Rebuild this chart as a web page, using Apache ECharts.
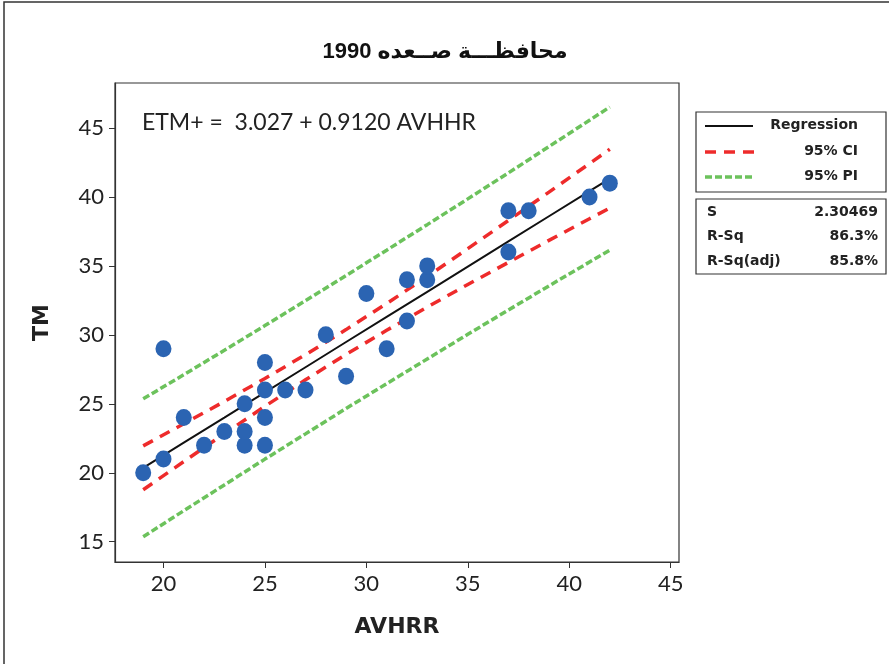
<!DOCTYPE html>
<html>
<head>
<meta charset="utf-8">
<script src="https://cdn.jsdelivr.net/npm/echarts@6/dist/echarts.min.js"></script>
<style>
  html, body { margin: 0; padding: 0; background: #fff; }
  #chart { width: 889px; height: 664px; }
</style>
</head>
<body>
<div id="chart"></div>
<script>
// observed points (AVHRR, TM)
var obsX = [19, 20, 20, 21, 22, 23, 24, 24, 24, 25, 25, 25, 25, 26, 27, 28, 29, 30, 31, 32, 32, 33, 33, 37, 37, 38, 41, 42];
var obsY = [20, 21, 29, 24, 22, 23, 22, 23, 25, 22, 24, 26, 28, 26, 26, 30, 27, 33, 29, 31, 34, 34, 35, 36, 39, 39, 40, 41];

// fitted line and bands read along x
var fitX    = [19, 21, 23, 25, 27, 29, 31, 33, 35, 37, 39, 41, 42];
var fitY    = [20.36, 22.18, 24.00, 25.83, 27.65, 29.48, 31.30, 33.12, 34.95, 36.77, 38.60, 40.42, 41.33];
var ciUpper = [21.95, 23.55, 25.17, 26.84, 28.56, 30.38, 32.27, 34.23, 36.25, 38.29, 40.35, 42.42, 43.46];
var ciLower = [18.77, 20.81, 22.83, 24.82, 26.74, 28.58, 30.33, 32.01, 33.65, 35.25, 36.85, 38.42, 39.20];
var piUpper = [25.36, 27.11, 28.88, 30.67, 32.48, 34.30, 36.14, 37.99, 39.86, 41.74, 43.65, 45.56, 46.52];
var piLower = [15.36, 17.25, 19.12, 20.99, 22.82, 24.66, 26.46, 28.25, 30.04, 31.80, 33.55, 35.28, 36.14];

var xTicks = [20, 25, 30, 35, 40, 45];
var yTicks = [15, 20, 25, 30, 35, 40, 45];

var statNames = ['S', 'R-Sq', 'R-Sq(adj)'];
var statValues = ['2.30469', '86.3%', '85.8%'];

function pairs(xs, ys) {
  return xs.map(function (x, i) { return [x, ys[i]]; });
}

var chart = echarts.init(document.getElementById('chart'));

var red = '#ee2b2b';
var green = '#6cc25c';
var lblFont = 'Lato, "Open Sans", sans-serif';
var boldFont = 'Tahoma, "DejaVu Sans", sans-serif';

function bandSeries(name, data, color, dash) {
  return {
    name: name,
    type: 'line',
    data: data,
    symbol: 'none',
    silent: true,
    z: 3,
    lineStyle: { color: color, width: 3.5, type: dash }
  };
}

var graphics = [
  // outer frame
  { type: 'rect', shape: { x: 4, y: 2, width: 900, height: 700 }, style: { fill: 'none', stroke: '#333', lineWidth: 1.5 } },
  // equation
  { type: 'text', left: 142, top: 111, style: { text: 'ETM+ =  3.027 + 0.9120 AVHHR', font: '23px ' + lblFont, fill: '#222' } },
  // legend box
  { type: 'rect', shape: { x: 696, y: 112, width: 190, height: 80 }, style: { fill: '#fff', stroke: '#333', lineWidth: 1.2 } },
  { type: 'line', shape: { x1: 705, y1: 126, x2: 753, y2: 126 }, style: { stroke: '#111', lineWidth: 2 } },
  { type: 'line', shape: { x1: 705, y1: 152, x2: 755, y2: 152 }, style: { stroke: red, lineWidth: 3.5, lineDash: [11, 8] } },
  { type: 'line', shape: { x1: 705, y1: 177, x2: 755, y2: 177 }, style: { stroke: green, lineWidth: 3.5, lineDash: [7, 3] } },
  { type: 'text', right: 31, top: 118, style: { text: 'Regression', font: 'bold 14px ' + boldFont, fill: '#222', textAlign: 'right' } },
  { type: 'text', right: 31, top: 144, style: { text: '95% CI', font: 'bold 14px ' + boldFont, fill: '#222', textAlign: 'right' } },
  { type: 'text', right: 31, top: 169, style: { text: '95% PI', font: 'bold 14px ' + boldFont, fill: '#222', textAlign: 'right' } },
  // stats box
  { type: 'rect', shape: { x: 696, y: 199, width: 190, height: 75 }, style: { fill: '#fff', stroke: '#333', lineWidth: 1.2 } }
];

statNames.forEach(function (n, i) {
  graphics.push({ type: 'text', left: 707, top: 205 + i * 24.5, style: { text: n, font: 'bold 14px ' + boldFont, fill: '#222' } });
  graphics.push({ type: 'text', right: 11, top: 205 + i * 24.5, style: { text: statValues[i], font: 'bold 14px ' + boldFont, fill: '#222', textAlign: 'right' } });
});

var option = {
  backgroundColor: '#fff',
  animation: false,
  title: {
    text: 'محافظـــة صــعده 1990',
    left: 440,
    top: 36,
    textAlign: 'center',
    textStyle: { fontFamily: 'Arial, "Liberation Sans", "DejaVu Sans", sans-serif', fontSize: 22, fontWeight: 'bold', color: '#111' }
  },
  grid: {
    left: 115,
    right: 210,
    top: 83,
    bottom: 102,
    show: true,
    borderColor: '#333',
    borderWidth: 1.2,
    backgroundColor: '#fff'
  },
  xAxis: {
    type: 'value',
    min: 17.61,
    max: 45.41,
    name: 'AVHRR',
    nameLocation: 'middle',
    nameGap: 54,
    nameTextStyle: { fontFamily: boldFont, fontSize: 22, fontWeight: 'bold', color: '#222' },
    axisLine: { show: true, onZero: false, lineStyle: { color: '#333', width: 1.2 } },
    axisTick: { show: true, length: 6, customValues: xTicks, lineStyle: { color: '#333' } },
    axisLabel: { customValues: xTicks, margin: 11, fontFamily: lblFont, fontSize: 22, color: '#222' },
    splitLine: { show: false }
  },
  yAxis: {
    type: 'value',
    min: 13.53,
    max: 48.26,
    name: 'TM',
    nameLocation: 'middle',
    nameGap: 62,
    nameRotate: 90,
    nameTextStyle: { fontFamily: boldFont, fontSize: 22, fontWeight: 'bold', color: '#222' },
    axisLine: { show: true, onZero: false, lineStyle: { color: '#333', width: 1.2 } },
    axisTick: { show: true, length: 6, customValues: yTicks, lineStyle: { color: '#333' } },
    axisLabel: { customValues: yTicks, margin: 11, fontFamily: lblFont, fontSize: 22, color: '#222' },
    splitLine: { show: false }
  },
  graphic: graphics,
  series: [
    bandSeries('95% PI', pairs(fitX, piUpper), green, [7, 3]),
    bandSeries('95% PI', pairs(fitX, piLower), green, [7, 3]),
    bandSeries('95% CI', pairs(fitX, ciUpper), red, [11, 8]),
    bandSeries('95% CI', pairs(fitX, ciLower), red, [11, 8]),
    {
      name: 'Regression',
      type: 'line',
      data: pairs(fitX, fitY),
      symbol: 'none',
      z: 4,
      lineStyle: { color: '#111', width: 2 }
    },
    {
      name: 'TM',
      type: 'scatter',
      data: pairs(obsX, obsY),
      symbol: 'circle',
      symbolSize: [16, 17],
      z: 5,
      itemStyle: { color: '#2b64b2', opacity: 1 }
    }
  ]
};

chart.setOption(option);
</script>
</body>
</html>
